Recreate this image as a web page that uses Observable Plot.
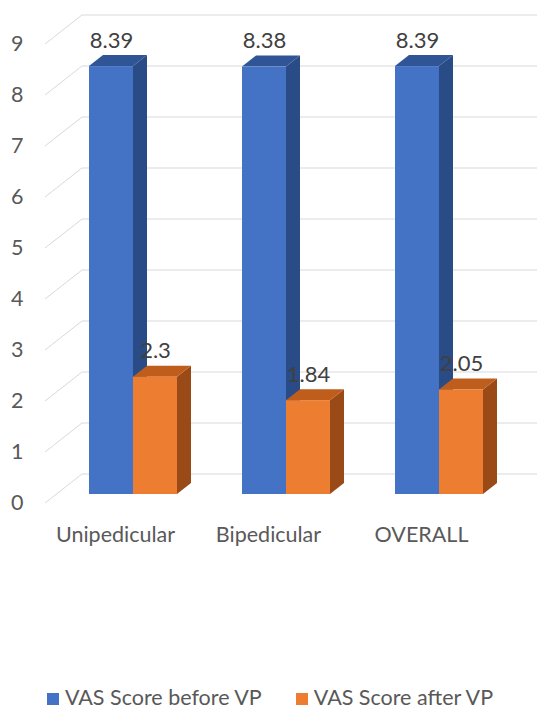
<!DOCTYPE html>
<html>
<head>
<meta charset="utf-8">
<script src="https://cdn.jsdelivr.net/npm/d3@7"></script>
<script src="https://cdn.jsdelivr.net/npm/@observablehq/plot@0.6"></script>
<style>
  html, body { margin: 0; padding: 0; background: #fff; }
  #chart svg { display: block; }
  .legend { display: flex; justify-content: center; align-items: center; height: 36px; font-family: Lato, sans-serif; font-size: 21.5px; line-height: 26px; color: #595959; padding-left: 3px; padding-top: 8px; box-sizing: border-box; }
  .legend .item { display: flex; align-items: center; margin: 0 17px; }
  .legend .sw { width: 12px; height: 12px; margin-right: 6px; margin-top: 3px; }
</style>
</head>
<body>
<div id="chart"></div>
<script>
const categories = ["Unipedicular", "Bipedicular", "OVERALL"];
const series = ["VAS Score before VP", "VAS Score after VP"];
const before = [8.39, 8.38, 8.39];
const after = [2.3, 1.84, 2.05];
const yTicks = [0, 1, 2, 3, 4, 5, 6, 7, 8, 9];

const colors = {
  front: ["#4472C4", "#ED7D31"],
  top:   ["#2F5597", "#BF5E1C"],
  side:  ["#294B86", "#9A4A17"]
};
const DEPTH_X = 14, DEPTH_Y = -11;
const HALF = 44; // half of band width in px

const rowsBefore = categories.map((c, i) => ({category: c, value: before[i], series: series[0]}));
const rowsAfter = categories.map((c, i) => ({category: c, value: after[i], series: series[1]}));

const NS = "http://www.w3.org/2000/svg";

function gridMark(index, scales, values, dims) {
  const g = document.createElementNS(NS, "g");
  for (const v of yTicks) {
    const y = scales.y(v);
    const p = document.createElementNS(NS, "path");
    p.setAttribute("d", `M45,${y + 9}L82,${y - 20}L${dims.width},${y - 20}`);
    p.setAttribute("fill", "none");
    p.setAttribute("stroke", "#D9D9D9");
    p.setAttribute("stroke-width", 1);
    g.appendChild(p);
  }
  return g;
}

function facesMark(rows, k) {
  return (index, scales) => {
    const g = document.createElementNS(NS, "g");
    const bw = scales.x.bandwidth() / 2;
    for (const r of rows) {
      const x0 = scales.x(r.category) + k * bw;
      const x1 = x0 + bw;
      const yT = scales.y(r.value);
      const yB = scales.y(0);
      const side = document.createElementNS(NS, "path");
      side.setAttribute("d", `M${x1},${yT}L${x1 + DEPTH_X},${yT + DEPTH_Y}L${x1 + DEPTH_X},${yB + DEPTH_Y}L${x1},${yB}Z`);
      side.setAttribute("fill", colors.side[k]);
      g.appendChild(side);
      const top = document.createElementNS(NS, "path");
      top.setAttribute("d", `M${x0},${yT}L${x0 + DEPTH_X},${yT + DEPTH_Y}L${x1 + DEPTH_X},${yT + DEPTH_Y}L${x1},${yT}Z`);
      top.setAttribute("fill", colors.top[k]);
      g.appendChild(top);
    }
    return g;
  };
}

const plot = Plot.plot({
  width: 537,
  height: 675,
  marginTop: 35,
  marginBottom: 181,
  marginLeft: 89,
  marginRight: 54,
  style: {fontFamily: "Lato, sans-serif", color: "#595959", background: "#fff", overflow: "visible"},
  x: {domain: categories, paddingInner: 0.42484, paddingOuter: 0, axis: null, label: null},
  y: {domain: [0, 9], axis: null, label: null},
  color: {domain: series, range: colors.front},
  marks: [
    gridMark,
    facesMark(rowsBefore, 0),
    Plot.barY(rowsBefore, {x: "category", y: "value", fill: "series", insetRight: HALF}),
    facesMark(rowsAfter, 1),
    Plot.barY(rowsAfter, {x: "category", y: "value", fill: "series", insetLeft: HALF}),
    Plot.text(rowsBefore, {x: "category", y: "value", text: d => String(d.value), dx: -22, dy: -26, fontSize: 22, fill: "#404040", lineAnchor: "middle"}),
    Plot.text(rowsAfter, {x: "category", y: "value", text: d => String(d.value), dx: 22, dy: -26, fontSize: 22, fill: "#404040", lineAnchor: "middle"}),
    Plot.axisY({ticks: yTicks, tickSize: 0, tickPadding: 66, dy: 9, fontSize: 21.5, fill: "#595959", label: null}),
    Plot.axisX({tickSize: 0, tickPadding: 32, dx: -18, fontSize: 21.5, fill: "#595959", label: null})
  ]
});
document.getElementById("chart").appendChild(plot);

const legend = document.createElement("div");
legend.className = "legend";
series.forEach((s, i) => {
  const item = document.createElement("div");
  item.className = "item";
  const sw = document.createElement("span");
  sw.className = "sw";
  sw.style.background = colors.front[i];
  const label = document.createElement("span");
  label.textContent = s;
  item.appendChild(sw);
  item.appendChild(label);
  legend.appendChild(item);
});
document.body.appendChild(legend);
</script>
</body>
</html>
